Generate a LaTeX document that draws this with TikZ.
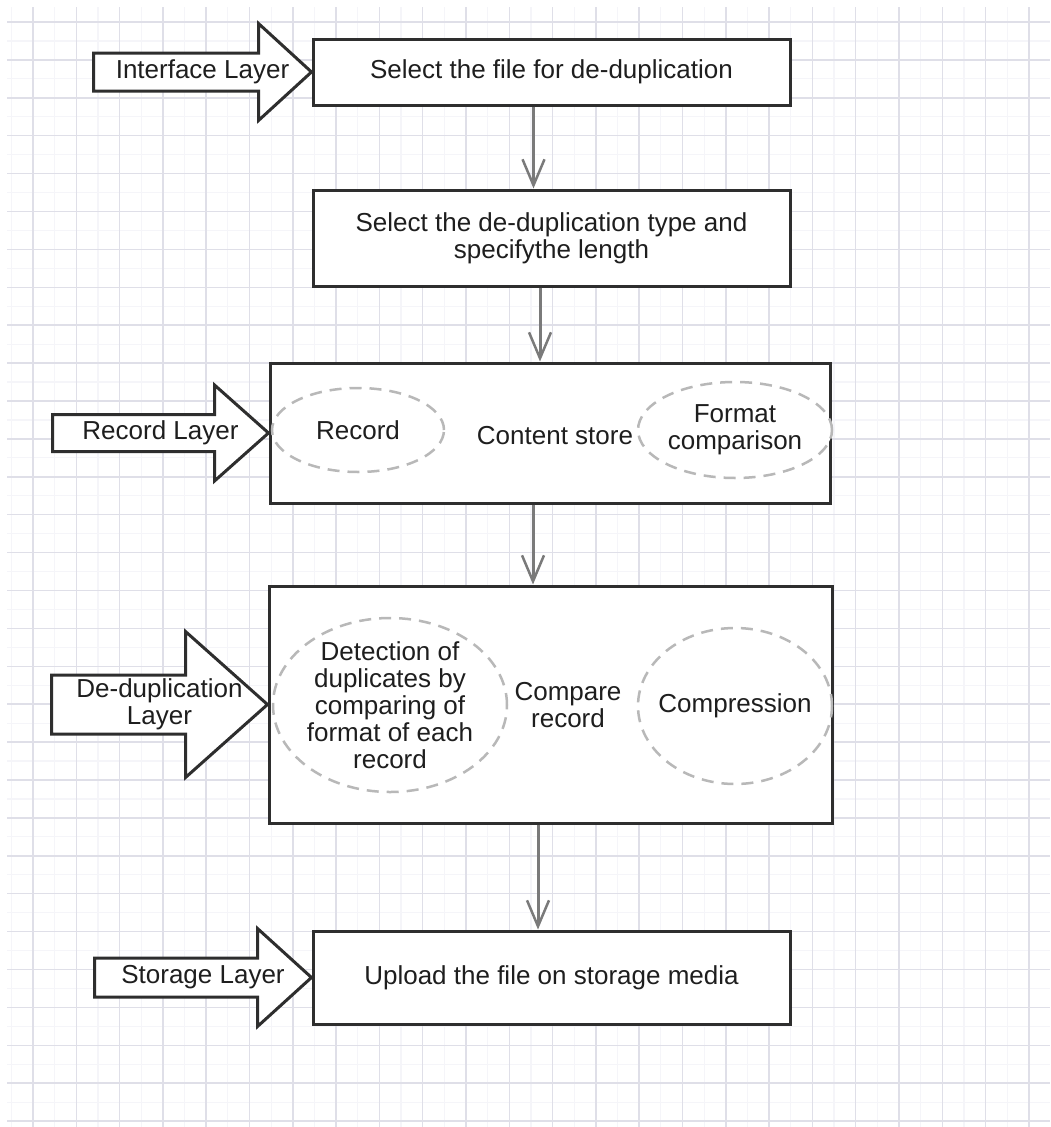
\documentclass[tikz,border=0pt]{standalone}
\usepackage{fontspec}
\setmainfont{Liberation Sans}
\usetikzlibrary{arrows.meta,shapes.geometric,calc}

\definecolor{gridmajor}{HTML}{DFDFE8}
\definecolor{gridminor}{HTML}{F5F5F9}
\definecolor{boxline}{HTML}{2E2E2E}
\definecolor{flowline}{HTML}{7A7A7A}
\definecolor{dashline}{HTML}{B8B8B8}
\definecolor{inktext}{HTML}{1E1E1E}

% Block arrow pointing at the west side of a box:
% #1 name, #2 target box, #3 total length, #4 body half height,
% #5 head length, #6 head half height, #7 label
\newcommand\layerarrow[7]{%
  \begin{scope}[shift={(#2.west)}]
    \draw[layershape] (0,0) -- (-#5,-#6) -- (-#5,-#4) -- (-#3,-#4)
      -- (-#3,#4) -- (-#5,#4) -- (-#5,#6) -- cycle;
    \node[plaintext] (#1) at ({-#3/2},0) {#7};
  \end{scope}}

\begin{document}
\begin{tikzpicture}[x=1pt,y=-1pt,
  labelfont/.style={font=\fontsize{26}{27}\selectfont},
  plaintext/.style={labelfont, text=inktext, align=center, inner sep=0pt},
  procbox/.style={draw=boxline, line width=3pt, fill=white, inner sep=0pt,
    labelfont, text=inktext, align=center},
  subitem/.style={ellipse, draw=dashline, line width=2.5pt,
    dash pattern=on 12pt off 8pt, fill=white, inner sep=0pt},
  layershape/.style={draw=boxline, line width=3pt, fill=white, line join=miter},
  flow/.style={draw=flowline, line width=3pt,
    -{Straight Barb[length=26pt, width=22pt, line width=2.5pt]}}]

% page and background grid
\useasboundingbox (0,0) rectangle (1050,1127);
\fill[white] (0,0) rectangle (1050,1127);
\foreach \k in {0,...,23}
  \draw[gridminor, line width=1.2pt] ({11.35+43.3*\k},7) -- ({11.35+43.3*\k},1127);
\foreach \k in {0,...,28}
  \draw[gridminor, line width=1.2pt] (7,{40.95+37.9*\k}) -- (1050,{40.95+37.9*\k});
\foreach \k in {0,...,23}
  \draw[gridmajor, line width=1.5pt] ({33+43.3*\k},7) -- ({33+43.3*\k},1127);
\foreach \k in {0,...,29}
  \draw[gridmajor, line width=1.5pt] (7,{22+37.9*\k}) -- (1050,{22+37.9*\k});

% process boxes
\node[procbox, minimum width=477pt, minimum height=66pt] (b1) at (551.5,72)
  {Select the file for de-duplication};
\node[procbox, minimum width=477pt, minimum height=96pt] (b2) at (551.5,238)
  {Select the de-duplication type and\\specifythe length};
\node[procbox, minimum width=560pt, minimum height=140pt] (b3) at (550,433) {};
\node[plaintext] (t3) at (555,436) {Content store};
\node[subitem, minimum width=172pt, minimum height=84pt,
  label={[plaintext]center:Record}] (e1) at (358,430) {};
\node[subitem, minimum width=194pt, minimum height=96pt,
  label={[plaintext]center:Format\\comparison}] (e2) at (735,430) {};
\node[procbox, minimum width=563pt, minimum height=237pt] (b4) at (550.5,704.5) {};
\node[subitem, minimum width=234pt, minimum height=174pt,
  label={[plaintext]center:Detection of\\duplicates by\\comparing of\\format of each\\record}]
  (e3) at (390,705) {};
\node[plaintext] (t4) at (568,705) {Compare\\record};
\node[subitem, minimum width=194pt, minimum height=156pt,
  label={[plaintext]center:Compression}] (e4) at (735,706) {};
\node[procbox, minimum width=477pt, minimum height=93pt] (b5) at (551.5,977.5)
  {Upload the file on storage media};

% flow between boxes
\draw[flow] ([xshift=-18pt]b1.south) -- ([xshift=-18pt]b2.north);
\draw[flow] ([xshift=-11.5pt]b2.south) -- ([xshift=-10pt]b3.north);
\draw[flow] ([xshift=-17pt]b3.south) -- ([xshift=-17.5pt]b4.north);
\draw[flow] ([xshift=-12.5pt]b4.south) -- ([xshift=-13.5pt]b5.north);

% layer labels
\layerarrow{l1}{b1}{218}{19}{53}{48.5}{Interface Layer}
\layerarrow{l2}{b3}{216}{18.5}{54}{48}{Record Layer}
\layerarrow{l3}{b4}{216}{29.5}{82}{73}{De-duplication\\Layer}
\layerarrow{l4}{b5}{217}{19.5}{54}{49}{Storage Layer}
\end{tikzpicture}
\end{document}
